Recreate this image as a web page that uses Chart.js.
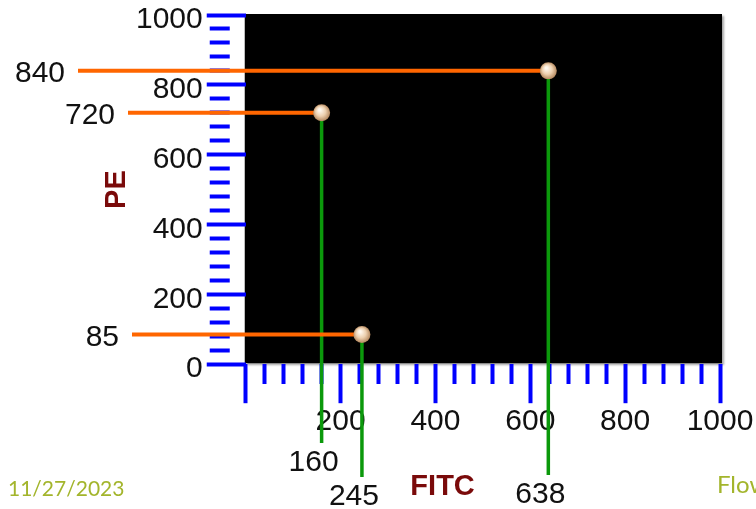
<!DOCTYPE html>
<html>
<head>
<meta charset="utf-8">
<script src="https://cdn.jsdelivr.net/npm/chart.js@4"></script>
<style>
  html, body { margin: 0; padding: 0; background: #fff; overflow: hidden; }
  #wrap { position: relative; width: 756px; height: 509px; }
  .footer { position: absolute; font-family: Lato, "Open Sans", sans-serif; font-size: 21px; line-height: 1; color: #a3b52c; white-space: nowrap; }
</style>
</head>
<body>
<div id="wrap">
  <canvas id="myChart"></canvas>
  <div class="footer" style="left:8px; top:477px;">11/27/2023</div>
  <div class="footer" style="left:717px; top:472px; font-size:24px;">Flow</div>
</div>
<script>
// data
var fitc = [160, 245, 638];
var pe = [720, 85, 840];
var xTickLabels = [200, 400, 600, 800, 1000];
var yTickLabels = [0, 200, 400, 600, 800, 1000];
var majorStep = 200;
var minorStep = 40;

// where the leader lines stop outside the plot (px), one per point
var leaderLeftX = [128, 132, 78];
var leaderBottomY = [443, 477, 475];

var blue = '#0000ff';
var maroon = '#7a0a0a';
var orange = '#ff6600';
var green = '#0b990b';
var family = '"Liberation Sans", Arial, sans-serif';

Chart.defaults.font.family = family;

function isMajor(c) {
    return c.tick && c.tick.value % majorStep === 0;
}

// black plot area with a small grey shadow
var plotBackground = {
    id: 'plotBackground',
    beforeDraw: function (chart) {
        var ctx = chart.ctx, a = chart.chartArea;
        ctx.save();
        ctx.shadowColor = 'rgba(0,0,0,0.35)';
        ctx.shadowOffsetX = 2;
        ctx.shadowOffsetY = 2;
        ctx.shadowBlur = 2;
        ctx.fillStyle = '#000';
        ctx.fillRect(a.left - 1, a.top - 1, a.right - a.left + 3, a.bottom - a.top);
        ctx.restore();
    }
};

// orange and green drop lines with their value labels
var guides = {
    id: 'guides',
    beforeDatasetsDraw: function (chart) {
        var ctx = chart.ctx;
        var x = chart.scales.x, y = chart.scales.y;
        ctx.save();
        ctx.lineCap = 'butt';
        fitc.forEach(function (v, i) {
            var px = x.getPixelForValue(v);
            var py = y.getPixelForValue(pe[i]);
            ctx.strokeStyle = green;
            ctx.lineWidth = 3.5;
            ctx.beginPath();
            ctx.moveTo(px, py);
            ctx.lineTo(px, leaderBottomY[i]);
            ctx.stroke();

            ctx.strokeStyle = orange;
            ctx.lineWidth = 4;
            ctx.beginPath();
            ctx.moveTo(leaderLeftX[i], py);
            ctx.lineTo(px, py);
            ctx.stroke();

            ctx.fillStyle = '#111';
            ctx.font = '30px ' + family;
            ctx.textAlign = 'right';
            ctx.textBaseline = 'middle';
            ctx.fillText(String(pe[i]), leaderLeftX[i] - 13, py + 3);
            ctx.textAlign = 'center';
            ctx.textBaseline = 'top';
            ctx.fillText(String(v), px - 8, leaderBottomY[i] + 5);
        });
        ctx.restore();
    }
};

function ballFill(c) {
    var chart = c.chart;
    var fallback = '#dcb48c';
    if (!chart.scales || !chart.scales.x || !c.parsed) return fallback;
    var px = chart.scales.x.getPixelForValue(c.parsed.x);
    var py = chart.scales.y.getPixelForValue(c.parsed.y);
    if (!isFinite(px) || !isFinite(py)) return fallback;
    var g = chart.ctx.createRadialGradient(px - 2, py - 3, 1, px, py, 9);
    g.addColorStop(0, '#fff8ee');
    g.addColorStop(0.5, '#eccfae');
    g.addColorStop(1, '#ad8056');
    return g;
}

var ctx = document.getElementById('myChart').getContext('2d');
var myChart = new Chart(ctx, {
    type: 'scatter',
    data: {
        datasets: [{
            label: 'PE vs FITC',
            data: fitc.map(function (v, i) { return { x: v, y: pe[i] }; }),
            pointRadius: 8.5,
            pointBorderWidth: 0,
            pointBackgroundColor: ballFill,
            clip: false
        }]
    },
    options: {
        responsive: true,
        maintainAspectRatio: false,
        animation: false,
        events: [],
        layout: { padding: { top: 15, right: 36, bottom: 0, left: 0 } },
        plugins: {
            legend: { display: false },
            tooltip: { enabled: false }
        },
        scales: {
            x: {
                type: 'linear',
                position: 'bottom',
                min: 0,
                max: 1000,
                border: { display: false },
                grid: {
                    drawOnChartArea: false,
                    tickLength: 39,
                    tickWidth: 4,
                    tickColor: blue,
                    tickBorderDash: function (c) { return isMajor(c) ? [] : [20, 100]; }
                },
                ticks: {
                    stepSize: minorStep,
                    autoSkip: false,
                    maxRotation: 0,
                    padding: 1,
                    color: '#111',
                    font: { size: 30 },
                    callback: function (v) { return xTickLabels.indexOf(v) >= 0 ? String(v) : ''; }
                },
                title: {
                    display: true,
                    // trailing spaces pull the title left, as on the slide
                    text: 'FITC\u00a0\u00a0\u00a0\u00a0\u00a0\u00a0\u00a0\u00a0\u00a0\u00a0',
                    color: maroon,
                    font: { size: 29, weight: 'bold' },
                    padding: { top: 28, bottom: 5 }
                }
            },
            y: {
                type: 'linear',
                position: 'left',
                min: 0,
                max: 1000,
                border: { display: false },
                grid: {
                    drawOnChartArea: false,
                    tickLength: 39,
                    tickWidth: 4,
                    tickColor: blue,
                    tickBorderDash: function (c) { return isMajor(c) ? [] : [0, 3, 20, 100]; }
                },
                ticks: {
                    stepSize: minorStep,
                    autoSkip: false,
                    padding: 4,
                    labelOffset: 5,
                    color: '#111',
                    font: { size: 30, lineHeight: 0.6 },
                    callback: function (v) { return yTickLabels.indexOf(v) >= 0 ? String(v) : ''; }
                },
                title: {
                    display: true,
                    text: 'PE',
                    color: maroon,
                    font: { size: 29, weight: 'bold', lineHeight: 1 },
                    padding: { top: 102, bottom: 1 }
                }
            }
        }
    },
    plugins: [plotBackground, guides]
});
</script>
</body>
</html>
